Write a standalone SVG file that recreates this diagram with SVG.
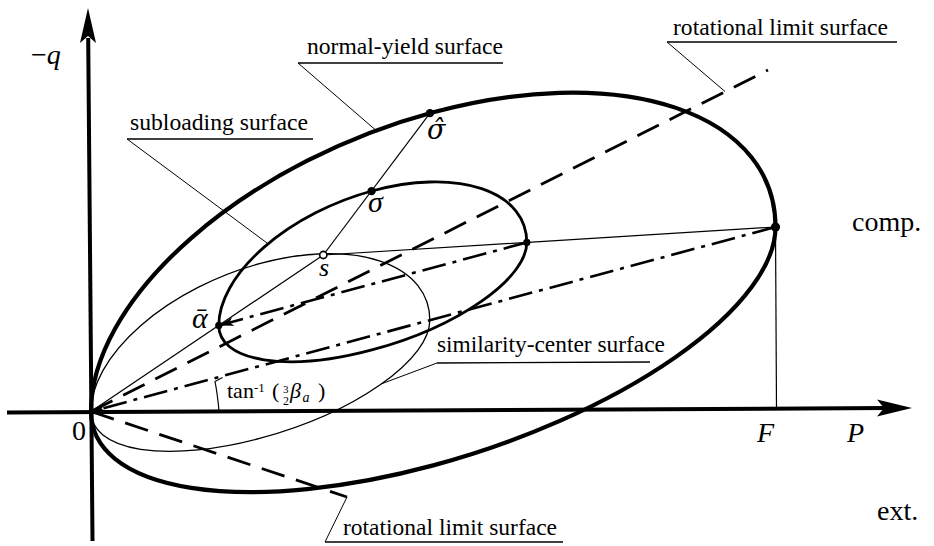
<svg xmlns="http://www.w3.org/2000/svg" width="934" height="546" viewBox="0 0 934 546">
<defs>
<style>
.ax{stroke:#000;stroke-width:4;fill:none}
.ah{fill:#000;stroke:none}
.ny{fill:none;stroke:#000;stroke-width:4.2;stroke-linecap:round}
.sub{fill:none;stroke:#000;stroke-width:2.8;stroke-linecap:round}
.sim{fill:none;stroke:#000;stroke-width:1.3;stroke-linecap:round}
.thin{stroke:#000;stroke-width:1.2;fill:none}
.lead{stroke:#000;stroke-width:1;fill:none}
.ul{stroke:#000;stroke-width:1.4;fill:none}
.dash{stroke:#000;stroke-width:2.8;stroke-dasharray:24 12;fill:none}
.dd{stroke:#000;stroke-width:2.6;stroke-dasharray:24 7 4 7;fill:none}
.lbl{font-family:"Liberation Serif","Times New Roman",serif;font-size:23px;fill:#000}
.big{font-family:"Liberation Serif","DejaVu Serif","Times New Roman",serif;font-size:28px;fill:#000}
.it{font-style:italic}
.dot{fill:#000}
</style>
<marker id="arr" markerUnits="userSpaceOnUse" viewBox="-16 -6 18 12" markerWidth="18" markerHeight="12" refX="0" refY="0" orient="auto">
<path d="M0,0 L-15,-4.5 L-11,0 L-15,4.5 Z" fill="#000"/>
</marker>
</defs>
<rect width="934" height="546" fill="#fff"/>

<g id="axes">
<line class="ax" x1="7" y1="412.5" x2="886" y2="408.1"/>
<polygon class="ah" points="912,408 877,399.5 884,408 877,416.5"/>
<line class="ax" x1="92.5" y1="541" x2="88.2" y2="38"/>
<polygon class="ah" points="88,8 80,43 88,36 96,43"/>
</g>

<g id="normal-yield-surface">
<path class="ny" vector-effect="non-scaling-stroke" transform="matrix(-342.25 92.24 0 -207.06 433.25 319.26)" d="M1,0 A1,1 0 0 1 -1,0"/>
<path class="ny" vector-effect="non-scaling-stroke" transform="matrix(-342.25 92.24 0 -146.14 433.25 319.26)" d="M1,0 A1,1 0 0 0 -1,0"/>
</g>

<g id="subloading-surface">
<path class="sub" vector-effect="non-scaling-stroke" transform="matrix(-154.01 41.51 0 -93.18 372.78 283.92)" d="M1,0 A1,1 0 0 1 -1,0"/>
<path class="sub" vector-effect="non-scaling-stroke" transform="matrix(-154.01 41.51 0 -65.76 372.78 283.92)" d="M1,0 A1,1 0 0 0 -1,0"/>
</g>

<g id="similarity-center-surface">
<path class="sim" vector-effect="non-scaling-stroke" transform="matrix(-169.41 45.66 0 -102.49 260.41 365.84)" d="M1,0 A1,1 0 0 1 -1,0"/>
<path class="sim" vector-effect="non-scaling-stroke" transform="matrix(-169.41 45.66 0 -72.34 260.41 365.84)" d="M1,0 A1,1 0 0 0 -1,0"/>
</g>

<g id="connectors">
<line class="thin" x1="91" y1="411.5" x2="323.3" y2="255"/>
<line class="thin" x1="323.3" y1="255" x2="430" y2="113.1"/>
<line class="thin" x1="323.3" y1="255" x2="775.5" y2="227"/>
<line class="thin" x1="775.5" y1="227" x2="776.5" y2="408.5"/>
<line class="dash" x1="91" y1="411.5" x2="768" y2="70"/>
<line class="dash" x1="91" y1="411.5" x2="347" y2="497"/>
<line class="dd" x1="775.5" y1="227" x2="91" y2="411.5" marker-end="url(#arr)"/>
<line class="dd" x1="526.8" y1="242.4" x2="218.8" y2="325.4" marker-end="url(#arr)"/>
<path class="thin" d="M219,411 Q217.5,394 215,381.5 L222.5,377.5"/>
<line class="lead" x1="298" y1="63" x2="375" y2="129.5"/>
<line class="lead" x1="667" y1="42" x2="725" y2="91.5"/>
<line class="lead" x1="127" y1="139" x2="267" y2="243"/>
<line class="lead" x1="437" y1="363" x2="381" y2="384"/>
<line class="lead" x1="325" y1="542" x2="347" y2="497"/>
</g>

<g id="points">
<circle class="dot" cx="430" cy="113.1" r="4.2"/>
<circle class="dot" cx="371.6" cy="191.1" r="4.2"/>
<circle class="dot" cx="218.8" cy="325.4" r="3.6"/>
<circle class="dot" cx="526.8" cy="242.4" r="3.6"/>
<circle class="dot" cx="775.5" cy="227" r="4.6"/>
<circle cx="323.3" cy="255" r="3.6" fill="#fff" stroke="#000" stroke-width="1.6"/>
</g>

<g id="label-normal-yield">
<text class="lbl" x="307" y="54" textLength="196" lengthAdjust="spacingAndGlyphs">normal-yield surface</text>
<line class="ul" x1="298" y1="63" x2="503" y2="63"/>
</g>
<g id="label-rotational-top">
<text class="lbl" x="673" y="35" textLength="215" lengthAdjust="spacingAndGlyphs">rotational limit surface</text>
<line class="ul" x1="667" y1="42" x2="897" y2="42"/>
</g>
<g id="label-subloading">
<text class="lbl" x="130" y="130" textLength="178" lengthAdjust="spacingAndGlyphs">subloading surface</text>
<line class="ul" x1="127" y1="139" x2="313" y2="139"/>
</g>
<g id="label-similarity">
<text class="lbl" x="437" y="352" textLength="228" lengthAdjust="spacingAndGlyphs">similarity-center surface</text>
<line class="ul" x1="437" y1="363" x2="650" y2="362"/>
</g>
<g id="label-rotational-bottom">
<text class="lbl" x="343" y="535" textLength="214" lengthAdjust="spacingAndGlyphs">rotational limit surface</text>
<line class="ul" x1="325" y1="542" x2="563" y2="542"/>
</g>

<g id="label-angle">
<text class="lbl" style="font-size:22px"><tspan x="227" y="398">tan</tspan><tspan x="254" y="392" style="font-size:13px">-1</tspan><tspan x="272" y="398">(</tspan><tspan x="283" y="393" style="font-size:11px">3</tspan><tspan x="283" y="405" style="font-size:12px">2</tspan><tspan x="290" y="398" class="it">β</tspan><tspan x="302.5" y="402" class="it" style="font-size:14px">a</tspan><tspan x="318" y="398">)</tspan></text>
</g>

<g id="axis-labels">
<text class="big" x="31" y="64">−<tspan class="it">q</tspan></text>
<text class="big" x="72" y="440">0</text>
<text class="big it" x="757" y="442">F</text>
<text class="big it" x="847" y="442">P</text>
<text class="big" x="852" y="231">comp.</text>
<text class="big" x="877" y="520">ext.</text>
</g>

<g id="point-labels">
<text x="427" y="139" style="font-family:'DejaVu Serif',serif;font-style:italic;font-size:27px;fill:#000">σ̂</text>
<text class="big it" x="368" y="212" style="font-size:30px">σ</text>
<text class="big it" x="319" y="276" style="font-size:26px">s</text>
<text class="big it" x="192" y="328" style="font-size:30px">ᾱ</text>
</g>
</svg>
